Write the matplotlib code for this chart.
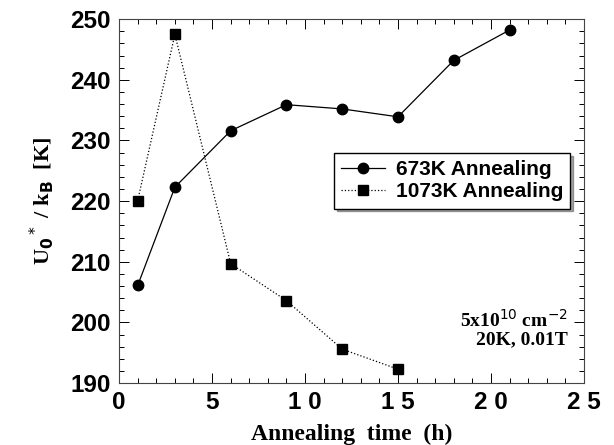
import matplotlib
matplotlib.use("Agg")
import matplotlib.pyplot as plt
from matplotlib.ticker import MultipleLocator

# data
t_673 = [1, 3, 6, 9, 12, 15, 18, 21]
u_673 = [206.1, 222.3, 231.6, 235.9, 235.2, 233.9, 243.2, 248.2]
t_1073 = [1, 3, 6, 9, 12, 15]
u_1073 = [220.1, 247.5, 209.7, 203.6, 195.6, 192.3]

x_ticks = [0, 5, 10, 15, 20, 25]
x_ticklabels = ["0", "5", "1 0", "1 5", "2 0", "2 5"]
y_ticks = [190, 200, 210, 220, 230, 240, 250]

sans = "Liberation Sans"
serif = "Liberation Serif"

fig = plt.figure(figsize=(6.14, 4.45), dpi=100)
ax = fig.add_axes([0.194, 0.139, 0.757, 0.818])

ax.plot(t_673, u_673, "-", color="black", lw=0.9, marker="o", ms=7.5,
        label="673K Annealing")
ax.plot(t_1073, u_1073, ":", color="black", lw=0.9, marker="s", ms=7.5,
        label="1073K Annealing")

ax.set_xlim(0, 25)
ax.set_ylim(190, 250)
ax.set_xticks(x_ticks)
ax.set_xticklabels(x_ticklabels)
ax.set_yticks(y_ticks)
ax.xaxis.set_minor_locator(MultipleLocator(1))
ax.yaxis.set_minor_locator(MultipleLocator(2))
ax.tick_params(which="both", direction="in", top=True, right=True, width=0.7)
ax.tick_params(which="major", length=7, pad=6)
ax.tick_params(which="minor", length=3.5)
for lab in ax.get_xticklabels() + ax.get_yticklabels():
    lab.set_fontfamily(sans)
    lab.set_fontweight("bold")
    lab.set_fontsize(17.5)
for sp in ax.spines.values():
    sp.set_linewidth(0.8)
    sp.set_color("#444444")

ax.set_xlabel("Annealing  time  (h)", fontfamily=serif, fontweight="bold",
              fontsize=17, labelpad=7)
ax.set_ylabel(r"U$_\mathbf{0}$$^*$ / k$_\mathbf{B}$  [K]", fontfamily=serif,
              fontweight="bold", fontsize=16, labelpad=10)

leg = ax.legend(loc="upper right", bbox_to_anchor=(0.993, 0.661), shadow=True,
                fancybox=False, edgecolor="black", framealpha=1,
                prop={"family": sans, "weight": "bold", "size": 15},
                handlelength=2.1, handletextpad=0.5, borderpad=0.35,
                labelspacing=0.15)
leg.get_frame().set_linewidth(1.0)

ax.text(0.966, 0.205, r"5x10$^{10}$ cm$^{-2}$" + "\n20K, 0.01T",
        transform=ax.transAxes, ha="right", va="top", fontfamily=serif,
        fontweight="bold", fontsize=14, linespacing=1.1)

fig.savefig("out.png", dpi=100)
